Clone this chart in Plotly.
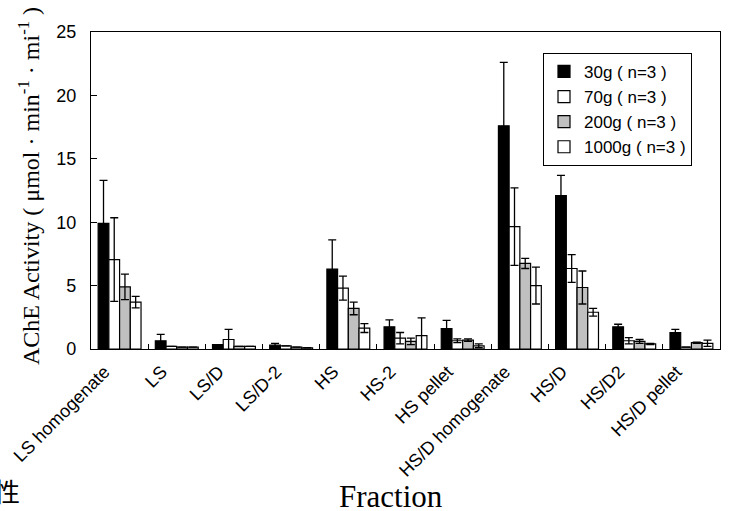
import plotly.graph_objects as go

categories = ["LS homogenate", "LS", "LS/D", "LS/D-2", "HS", "HS-2", "HS pellet",
              "HS/D homogenate", "HS/D", "HS/D2", "HS/D pellet"]
series_names = ["30g ( n=3 )", "70g ( n=3 )", "200g ( n=3 )", "1000g ( n=3 )"]

v30 = [9.9, 0.65, 0.35, 0.3, 6.3, 1.75, 1.6, 17.6, 12.1, 1.75, 1.3]
e30 = [3.4, 0.5, 0.0, 0.15, 2.3, 0.55, 0.65, 5.0, 1.6, 0.2, 0.25]
v70 = [7.05, 0.2, 0.75, 0.25, 4.8, 0.85, 0.65, 9.65, 6.35, 0.65, 0.15]
e70 = [3.3, 0.0, 0.8, 0.0, 0.95, 0.45, 0.15, 3.05, 1.1, 0.25, 0.0]
v200 = [4.9, 0.15, 0.2, 0.15, 3.2, 0.6, 0.7, 6.75, 4.85, 0.6, 0.5]
e200 = [1.0, 0.0, 0.0, 0.0, 0.5, 0.25, 0.1, 0.4, 1.3, 0.15, 0.05]
v1000 = [3.7, 0.15, 0.2, 0.1, 1.65, 1.05, 0.25, 5.0, 2.9, 0.4, 0.45]
e1000 = [0.45, 0.0, 0.0, 0.0, 0.35, 1.4, 0.15, 1.45, 0.3, 0.05, 0.25]

values = [v30, v70, v200, v1000]
errors = [e30, e70, e200, e1000]
fills = ["#000000", "#ffffff", "#c0c0c0", "#ffffff"]

SANS = "Liberation Sans, Arial, sans-serif"
SERIF = "Liberation Serif, Times New Roman, serif"

fig = go.Figure()
for name, v, e, c in zip(series_names, values, errors, fills):
    fig.add_trace(go.Bar(
        x=categories, y=v, name=name,
        marker=dict(color=c, line=dict(color="#000000", width=1.2)),
        error_y=dict(type="data", array=e, visible=True, color="#000000",
                     thickness=1.3, width=4),
    ))

fig.update_layout(
    width=729, height=511,
    margin=dict(l=91, r=9, t=32, b=162, autoexpand=False),
    paper_bgcolor="white", plot_bgcolor="white",
    barmode="group", bargap=0.25, bargroupgap=0,
    font=dict(family=SANS, color="#000000"),
    showlegend=True,
    legend=dict(x=0.7186, y=0.934, xanchor="left", yanchor="top",
                bgcolor="white", bordercolor="#000000", borderwidth=1,
                font=dict(size=17, family=SANS),
                itemwidth=30, tracegroupgap=0),
)
fig.update_xaxes(
    type="category", showline=True, linecolor="#000000", linewidth=1.3,
    mirror=True, ticks="inside", tickson="boundaries", ticklen=5,
    tickcolor="#000000", tickangle=-45,
    tickfont=dict(size=18, family=SANS),
    ticklabelstandoff=4, ticklabelshift=-15,
    showgrid=False, automargin=False,
)
fig.update_yaxes(
    range=[0, 25], dtick=5, showline=True, linecolor="#000000", linewidth=1.3,
    mirror=True, ticks="inside", ticklen=6, tickcolor="#000000",
    tickfont=dict(size=18, family=SANS), ticklabelstandoff=10,
    showgrid=False, zeroline=False, automargin=False,
)

fig.add_annotation(
    xref="paper", yref="paper", x=-0.0986, y=0.514, xanchor="center", yanchor="middle",
    text="AChE Activity ( μmol · min<sup>-1</sup> · mi<sup>-1</sup> )",
    textangle=-90, showarrow=False,
    font=dict(size=24, family=SERIF),
)
fig.add_annotation(
    xref="paper", yref="paper", x=0.477, y=-0.466, xanchor="center", yanchor="middle",
    text="Fraction", showarrow=False,
    font=dict(size=31, family=SERIF),
)
fig.add_annotation(
    xref="paper", yref="paper", x=-0.157, y=-0.445, xanchor="left", yanchor="middle",
    text="性", showarrow=False,
    font=dict(size=26, family="Noto Sans CJK JP"),
)

fig.write_html("out.html", config={"displayModeBar": False},
               post_script="document.body.style.margin='0';")
